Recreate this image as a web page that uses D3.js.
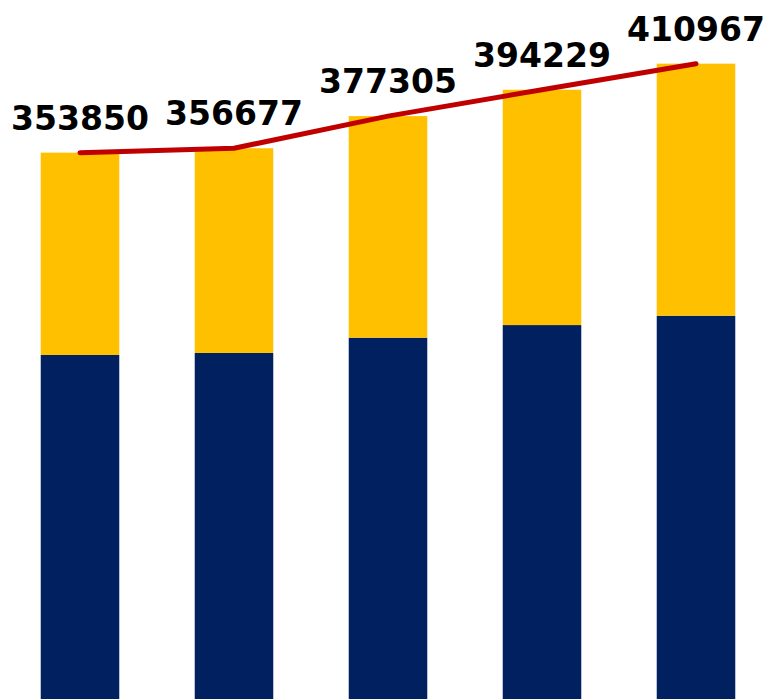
<!DOCTYPE html>
<html>
<head>
<meta charset="utf-8">
<script src="https://cdn.jsdelivr.net/npm/d3@7"></script>
<style>
  html, body { margin: 0; padding: 0; background: #fff; }
  svg { display: block; }
</style>
</head>
<body>
<svg id="chart" width="770" height="699"></svg>
<script>
const categories = ["A", "B", "C", "D", "E"];
const bottomValues = [224000, 225300, 235100, 243200, 249200];
const totals = [353850, 356677, 377305, 394229, 410967];
const topValues = totals.map((t, i) => t - bottomValues[i]);

const svg = d3.select("#chart");

const x = d3.scaleBand()
  .domain(categories)
  .range([3, 773])
  .paddingInner(0.49)
  .paddingOuter(0.245);

const y = d3.scaleLinear()
  .domain([0, 440000])
  .range([704, 704 - 440000 / 641.8]);

const stackData = categories.map((c, i) => ({ cat: c, bottom: bottomValues[i], top: topValues[i] }));
const series = d3.stack().keys(["bottom", "top"])(stackData);
const colors = { bottom: "#002060", top: "#FFC000" };

svg.append("g").selectAll("g")
  .data(series)
  .join("g")
  .attr("fill", d => colors[d.key])
  .selectAll("rect")
  .data(d => d)
  .join("rect")
  .attr("x", d => x(d.data.cat))
  .attr("width", x.bandwidth())
  .attr("y", d => y(d[1]))
  .attr("height", d => y(d[0]) - y(d[1]));

const line = d3.line()
  .x((d, i) => x(categories[i]) + x.bandwidth() / 2)
  .y(d => y(d));

svg.append("path")
  .datum(totals)
  .attr("d", line)
  .attr("fill", "none")
  .attr("stroke", "#C00000")
  .attr("stroke-width", 5)
  .attr("stroke-linecap", "round")
  .attr("stroke-linejoin", "round");

svg.append("g").selectAll("text")
  .data(totals)
  .join("text")
  .attr("x", (d, i) => x(categories[i]) + x.bandwidth() / 2)
  .attr("y", d => y(d) - 23)
  .attr("text-anchor", "middle")
  .attr("font-family", "'DejaVu Sans', Verdana, sans-serif")
  .attr("font-weight", "bold")
  .attr("font-size", 33)
  .attr("fill", "#000")
  .text(d => d);
</script>
</body>
</html>
